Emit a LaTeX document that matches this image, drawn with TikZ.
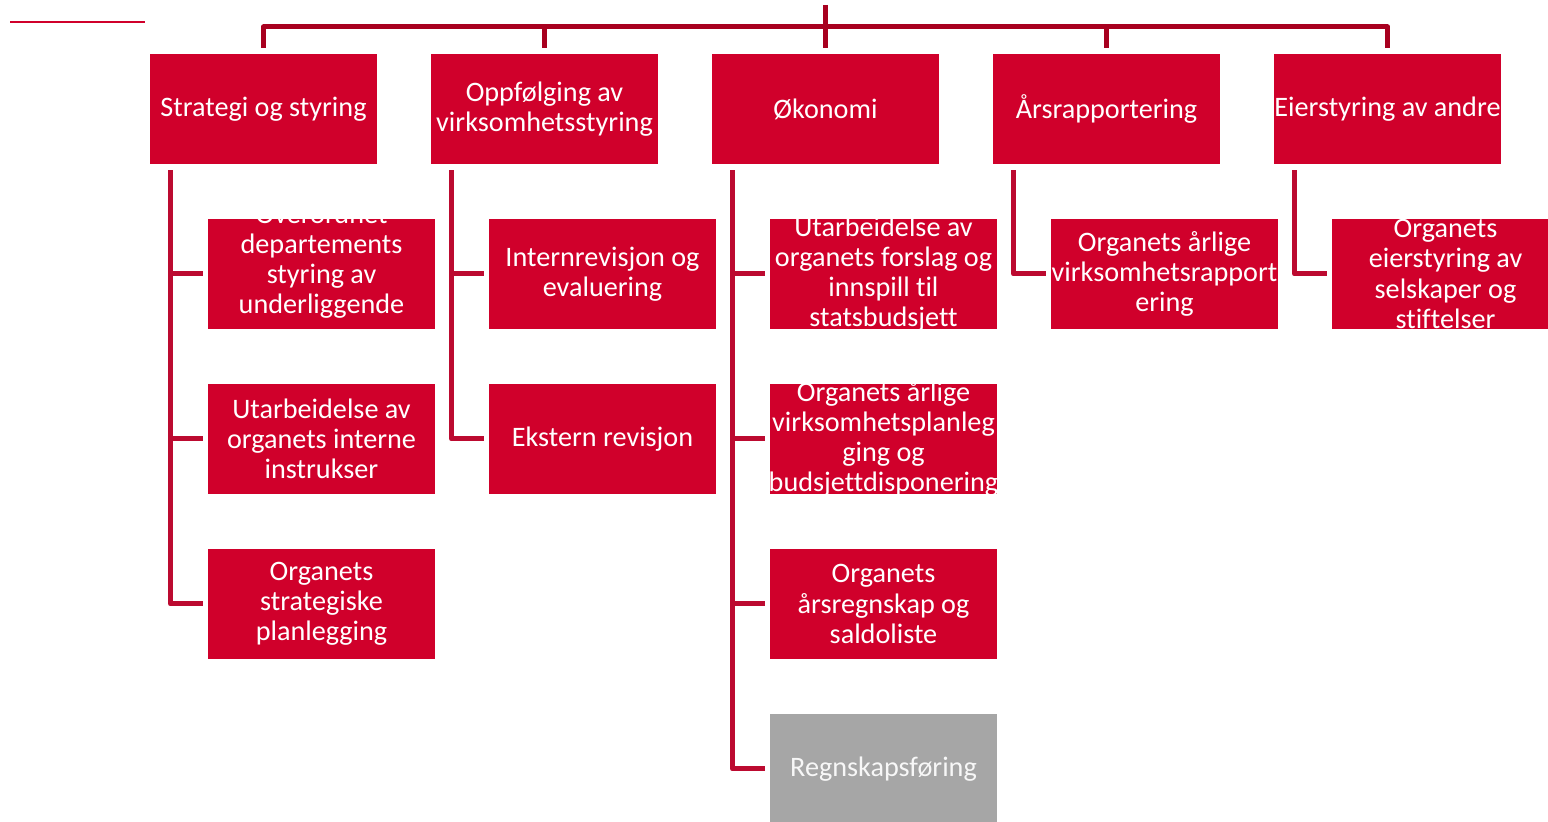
\documentclass[tikz,border=0pt]{standalone}
\usepackage{fontspec}
\setmainfont{Carlito}[Ligatures=NoCommon]
\usetikzlibrary{positioning}
\definecolor{orgred}{HTML}{D0002B}
\definecolor{linered}{HTML}{BC0A30}
\definecolor{barred}{HTML}{A8001F}
\definecolor{orggray}{HTML}{A6A6A6}
\tikzset{orgbox/.style={fill=orgred, inner sep=0pt,
  minimum width=113.5pt, minimum height=55pt},
  orgtext/.style={text=white, inner sep=0pt, align=center,
  font=\fontsize{14.1}{15.1}\selectfont},
  boxtext/.style={label={[orgtext]center:#1}},
  graybox/.style={orgbox, fill=orggray},
  graytext/.style={label={[orgtext, text=white!94!gray]center:#1}},
  orgline/.style={draw=linered, line width=2.5pt, line join=round},
  topline/.style={draw=barred, line width=2.5pt, line join=round},
  org/.style={x=0.5pt, y=-0.5pt}}

\begin{document}
\begin{tikzpicture}[org]
    \path[use as bounding box, clip] (0,0) rectangle (1548,822);
    % top level
    \node[orgbox, boxtext={Strategi og styring}] (strat) at (263.5,109) {};
    \node[orgbox, boxtext={Oppfølging av\\virksomhetsstyring}] (oppf) at (544.5,109) {};
    \node[orgbox, boxtext={Økonomi}] (okon) at (825.5,109) {};
    \node[orgbox, boxtext={Årsrapportering}] (aars) at (1106.5,109) {};
    \node[orgbox, boxtext={Eierstyring av andre}] (eier) at (1387.5,109) {};
    \coordinate (root) at (825.5,5);
    \coordinate (hub) at (825.5,27);
    \draw[draw=orgred, line width=1.2pt] (10,22) -- (145,22);
    % strategi og styring
    \node[orgbox, boxtext={Overordnet\\departements\\styring av\\underliggende\\\mbox{}}] (s1) at (321.5,274) {};
    \node[orgbox, boxtext={Utarbeidelse av\\organets interne\\instrukser}] (s2) at (321.5,439) {};
    \node[orgbox, boxtext={Organets\\strategiske\\planlegging}] (s3) at (321.5,604) {};
    % oppfolging
    \node[orgbox, boxtext={Internrevisjon og\\evaluering}] (o1) at (602.5,274) {};
    \node[orgbox, boxtext={Ekstern revisjon}] (o2) at (602.5,439) {};
    % okonomi
    \node[orgbox, boxtext={Utarbeidelse av\\organets forslag og\\innspill til\\statsbudsjett}] (k1) at (883.5,274) {};
    \node[orgbox, boxtext={Organets årlige\\virksomhetsplanleg\\ging og\\budsjettdisponering}] (k2) at (883.5,439) {};
    \node[orgbox, boxtext={Organets\\årsregnskap og\\saldoliste}] (k3) at (883.5,604) {};
    \node[graybox, graytext={Regnskapsføring}] (k4) at (883.5,769) {};
    % arsrapportering og eierstyring
    \node[orgbox, boxtext={Organets årlige\\virksomhetsrapport\\ering}] (a1) at (1164.5,274) {};
    \node[orgbox, boxtext={Organets\\eierstyring av\\selskaper og\\stiftelser}] (e1) at (1445.5,274) {};

    \draw[topline] (root) -- (hub);
    \draw[topline] ([yshift=3pt]strat.north) |- (hub) -| ([yshift=3pt]eier.north);
    \draw[topline] ([yshift=3pt]oppf.north) -- (oppf.north |- hub);
    \draw[topline] ([yshift=3pt]okon.north) -- (hub);
    \draw[topline] ([yshift=3pt]aars.north) -- (aars.north |- hub);

    \draw[orgline] ([shift={(10.5pt,-3pt)}]strat.south west) |- ([xshift=-2.5pt]s1.west);
    \draw[orgline] ([shift={(10.5pt,-3pt)}]strat.south west) |- ([xshift=-2.5pt]s2.west);
    \draw[orgline] ([shift={(10.5pt,-3pt)}]strat.south west) |- ([xshift=-2.5pt]s3.west);
    \draw[orgline] ([shift={(10.5pt,-3pt)}]oppf.south west) |- ([xshift=-2.5pt]o1.west);
    \draw[orgline] ([shift={(10.5pt,-3pt)}]oppf.south west) |- ([xshift=-2.5pt]o2.west);
    \draw[orgline] ([shift={(10.5pt,-3pt)}]okon.south west) |- ([xshift=-2.5pt]k1.west);
    \draw[orgline] ([shift={(10.5pt,-3pt)}]okon.south west) |- ([xshift=-2.5pt]k2.west);
    \draw[orgline] ([shift={(10.5pt,-3pt)}]okon.south west) |- ([xshift=-2.5pt]k3.west);
    \draw[orgline] ([shift={(10.5pt,-3pt)}]okon.south west) |- ([xshift=-2.5pt]k4.west);
    \draw[orgline] ([shift={(10.5pt,-3pt)}]aars.south west) |- ([xshift=-2.5pt]a1.west);
    \draw[orgline] ([shift={(10.5pt,-3pt)}]eier.south west) |- ([xshift=-2.5pt]e1.west);
  \end{tikzpicture}
\end{document}
